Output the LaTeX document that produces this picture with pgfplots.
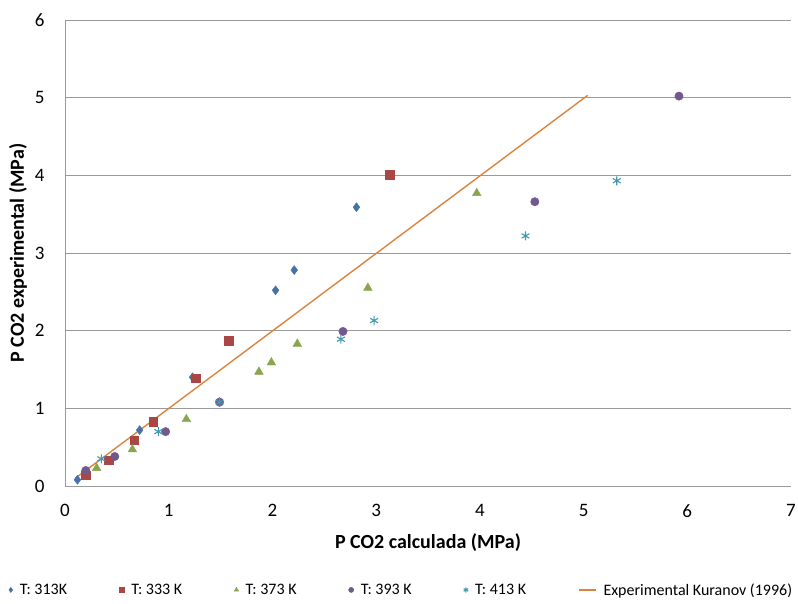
\documentclass[border=0pt]{standalone}
\usepackage{pgfplots}
\pgfplotsset{compat=1.18}
\usepackage{fontspec}
\setmainfont{Carlito}
\usetikzlibrary{plotmarks}
\definecolor{cA}{HTML}{4572A7}
\definecolor{cB}{HTML}{AA4643}
\definecolor{cC}{HTML}{89A54E}
\definecolor{cD}{HTML}{71588F}
\definecolor{cE}{HTML}{4198AF}
\definecolor{cF}{HTML}{DB843D}
\definecolor{gridc}{HTML}{9A9A9A}
\pgfplotsset{shortline/.style={legend image code/.code={\draw[##1] (0pt,0pt) -- (17pt,0pt);}}}
\begin{document}
\begin{tikzpicture}[x=1pt,y=1pt]
\begin{axis}[
  at={(65pt,118pt)}, anchor=south west,
  scale only axis, width=726pt, height=466pt,
  xmin=0, xmax=7, ymin=0, ymax=6,
  xtick={0,1,...,7}, ytick={0,1,...,6},
  axis x line=bottom, axis y line=left,
  axis line style={gridc, line width=0.8pt, -},
  major tick length=0pt,
  ymajorgrids, major grid style={gridc, line width=0.8pt},
  /pgf/number format/assume math mode=true,
  tick label style={font=\fontsize{19}{22}\selectfont},
  xticklabel style={yshift=-15pt},
  yticklabel style={xshift=-17pt},
  xlabel={\textbf{P CO2 calculada (MPa)}},
  ylabel={\textbf{P CO2 experimental (MPa)}},
  label style={font=\fontsize{20}{24}\selectfont},
  xlabel style={at={(axis description cs:0.5,-0.1223)}, anchor=center},
  ylabel style={at={(axis description cs:-0.0647,0.5)}, anchor=center},
  legend columns=6,
  legend image post style={mark size=2.6pt},
  legend style={at={(axis description cs:0.4635,-0.223)}, anchor=center, draw=none,
    font=\fontsize{16}{19}\selectfont,
    /tikz/every odd column/.append style={column sep=5pt},
    /tikz/every even column/.append style={column sep=50pt}},
  legend cell align=left,
  clip=false,
]
\addplot[only marks, mark=diamond*, mark size=4.5pt, color=cA, mark options={fill=cA, draw=cA}] coordinates {
 (0.12,0.08) (0.72,0.72) (1.23,1.40) (1.49,1.08) (2.03,2.52) (2.21,2.78) (2.81,3.59)};
\addlegendentry{T: 313K}
\addplot[only marks, mark=square*, mark size=4.2pt, color=cB, mark options={fill=cB, draw=cB}] coordinates {
 (0.20,0.14) (0.42,0.33) (0.665,0.59) (0.85,0.83) (1.26,1.39) (1.58,1.87) (3.13,4.01)};
\addlegendentry{T: 333 K}
\addplot[only marks, mark=triangle*, mark size=5pt, color=cC, mark options={fill=cC, draw=cC}] coordinates {
 (0.305,0.23) (0.65,0.47) (1.17,0.86) (1.87,1.47) (1.99,1.59) (2.24,1.83) (2.92,2.55) (3.97,3.77)};
\addlegendentry{T: 373 K}
\addplot[only marks, mark=*, mark size=4.2pt, color=cD, mark options={fill=cD, draw=cD}] coordinates {
 (0.20,0.20) (0.48,0.38) (0.97,0.70) (1.49,1.08) (2.68,1.99) (4.53,3.66) (5.92,5.02)};
\addlegendentry{T: 393 K}
\addplot[only marks, mark=asterisk, mark size=4.5pt, color=cE, mark options={draw=cE, line width=1.1pt}] coordinates {
 (0.35,0.35) (0.90,0.70) (1.49,1.08) (2.66,1.89) (2.98,2.13) (4.44,3.22) (5.32,3.93)};
\addlegendentry{T: 413 K}
\addplot[no marks, color=cF, line width=1.4pt, shortline] coordinates {(0.10,0.10) (5.04,5.03)};
\addlegendentry{Experimental Kuranov (1996)}
\end{axis}
\pgfresetboundingbox
\path (0pt,0pt) rectangle (798pt,604pt);
\end{tikzpicture}
\end{document}
